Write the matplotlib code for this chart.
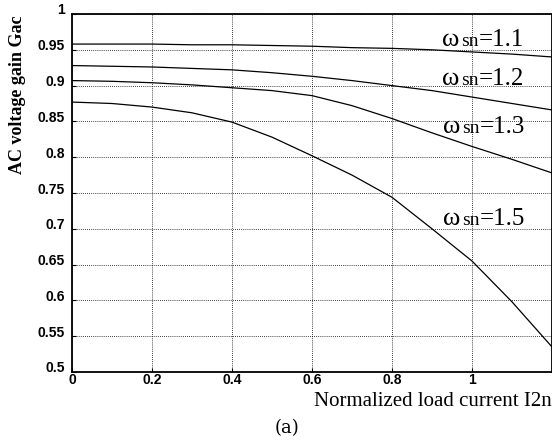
import matplotlib
matplotlib.use("Agg")
import matplotlib.pyplot as plt
import matplotlib.transforms as mtransforms
import numpy as np

# Data
x_load = [0.0, 0.1, 0.2, 0.3, 0.4, 0.5, 0.6, 0.7, 0.8, 0.9, 1.0, 1.1, 1.2]
gac_w11 = [0.958, 0.958, 0.958, 0.957, 0.957, 0.956, 0.955, 0.953, 0.952, 0.950, 0.947, 0.944, 0.940]
gac_w12 = [0.928, 0.927, 0.926, 0.924, 0.922, 0.918, 0.913, 0.907, 0.900, 0.893, 0.884, 0.875, 0.866]
gac_w13 = [0.907, 0.906, 0.904, 0.901, 0.897, 0.893, 0.886, 0.872, 0.854, 0.834, 0.815, 0.797, 0.778]
gac_w15 = [0.877, 0.875, 0.870, 0.862, 0.849, 0.828, 0.802, 0.775, 0.744, 0.700, 0.655, 0.598, 0.535]
series_labels = ["=1.1", "=1.2", "=1.3", "=1.5"]
label_pos = [(0.925, 0.9553), (0.925, 0.9008), (0.927, 0.8338), (0.927, 0.7053)]
xticks = [0, 0.2, 0.4, 0.6, 0.8, 1.0]
xtick_labels = ["0", "0.2", "0.4", "0.6", "0.8", "1"]
yticks = [0.5, 0.55, 0.6, 0.65, 0.7, 0.75, 0.8, 0.85, 0.9, 0.95, 1.0]
ytick_labels = ["0.5", "0.55", "0.6", "0.65", "0.7", "0.75", "0.8", "0.85", "0.9", "0.95", "1"]

fig = plt.figure(figsize=(5.52, 4.41), dpi=100)
ax = fig.add_axes([72/552, 1-372/441, 1-72/552, (372-14)/441])

for ys in [gac_w11, gac_w12, gac_w13, gac_w15]:
    ax.plot(x_load, ys, color='black', lw=0.9)

ax.set_xlim(0, 1.2)
ax.set_ylim(0.5, 1.0)
ax.set_xticks(xticks)
ax.set_xticklabels(xtick_labels)
ax.set_yticks(yticks)
ax.set_yticklabels(ytick_labels)
ax.grid(True, color='black', linestyle=(0, (1, 1.5)), lw=0.6)
ax.tick_params(direction='in', length=3, width=0.8, labelsize=10)
ax.tick_params(axis='x', pad=1)
ax.tick_params(axis='y', pad=5)
for lab in ax.get_xticklabels() + ax.get_yticklabels():
    lab.set_fontfamily('Liberation Sans')
    lab.set_fontweight('bold')
offset = mtransforms.ScaledTranslation(0, 5/100, fig.dpi_scale_trans)
for lab in ax.get_yticklabels():
    lab.set_transform(lab.get_transform() + offset)
for s in ax.spines.values():
    s.set_linewidth(1.3)

renderer = fig.canvas.get_renderer()
for lbl, (px, py) in zip(series_labels, label_pos):
    t1 = ax.text(px, py, "ω", fontsize=19, family='Liberation Serif',
                 ha='left', va='baseline')
    w1 = t1.get_window_extent(renderer).width
    tr2 = ax.transData + mtransforms.ScaledTranslation((w1 + 2) / 100, 0, fig.dpi_scale_trans)
    t2 = ax.text(px, py, "sn", fontsize=14, family='Liberation Serif',
                 ha='left', va='baseline', transform=tr2)
    w2 = t2.get_window_extent(renderer).width
    tr3 = ax.transData + mtransforms.ScaledTranslation((w1 + 2 + w2) / 100, 0, fig.dpi_scale_trans)
    ax.text(px, py, lbl, fontsize=18, family='Liberation Serif',
            ha='left', va='baseline', transform=tr3)

fig.text(18/552, 1-95/441, "AC voltage gain Gac", rotation=90, ha='center', va='center',
         family='Liberation Serif', fontweight='bold', fontsize=13)
fig.text(1.0, 1-401/441, "Normalized load current I2n", ha='right', va='center',
         family='Liberation Serif', fontsize=15)
fig.text(287/552, 1-428/441, "(a)", ha='center', va='center',
         family='DejaVu Serif', fontsize=13)

fig.savefig("out.png", dpi=100)
